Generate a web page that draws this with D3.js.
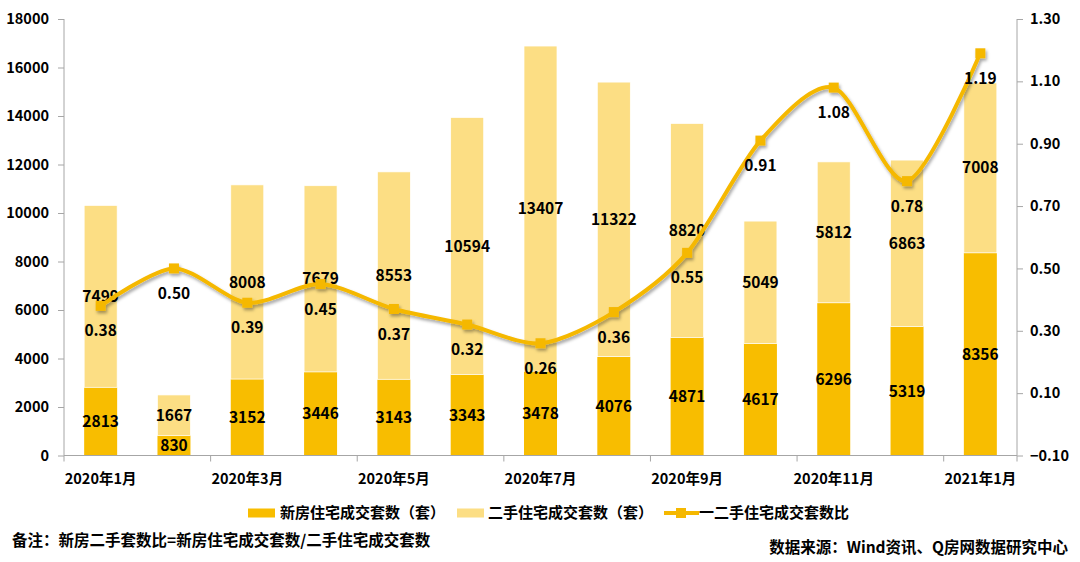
<!DOCTYPE html>
<html><head><meta charset="utf-8">
<script src="https://cdn.jsdelivr.net/npm/d3@7"></script>
<style>body{margin:0;background:#fff}svg{display:block}text{font-family:"Noto Sans CJK SC","Noto Sans",sans-serif;font-weight:bold;fill:#000}</style>
</head><body><svg id="c" width="1080" height="562"></svg>
<script>
const months = ["2020年1月","2020年2月","2020年3月","2020年4月","2020年5月","2020年6月","2020年7月","2020年8月","2020年9月","2020年10月","2020年11月","2020年12月","2021年1月"];
const newHomes = [2813,830,3152,3446,3143,3343,3478,4076,4871,4617,6296,5319,8356];
const secondHomes = [7499,1667,8008,7679,8553,10594,13407,11322,8820,5049,5812,6863,7008];
const ratio = [0.38,0.50,0.39,0.45,0.37,0.32,0.26,0.36,0.55,0.91,1.08,0.78,1.19];
const leftTicks = [0,2000,4000,6000,8000,10000,12000,14000,16000,18000];
const rightTicks = [-0.10,0.10,0.30,0.50,0.70,0.90,1.10,1.30];
const shownMonths = ["2020年1月","2020年3月","2020年5月","2020年7月","2020年9月","2020年11月","2021年1月"];
const seriesNames = ["新房住宅成交套数（套）","二手住宅成交套数（套）","一二手住宅成交套数比"];

const C_NEW="#F8BD00", C_SEC="#FCDE84", C_LINE="#F5B800", AXIS="#A6A6A6";
const svg=d3.select("#c");
const L=64,R=1017,T=19,B=455.5;
const x=d3.scaleBand().domain(months).range([L,R]).paddingInner(0.55).paddingOuter(0.275);
const y=d3.scaleLinear().domain([0,18000]).range([B,T]);
const y2=d3.scaleLinear().domain([-0.10,1.30]).range([B,T]);

const defs=svg.append("defs");
const f=defs.append("filter").attr("id","sh").attr("x","-10%").attr("y","-10%").attr("width","120%").attr("height","130%");
f.append("feDropShadow").attr("dx",1.5).attr("dy",2.5).attr("stdDeviation",1.5).attr("flood-color","#000").attr("flood-opacity",0.35);

// bars
const g=svg.append("g");
months.forEach((m,i)=>{
  g.append("rect").attr("x",x(m)).attr("width",x.bandwidth()).attr("y",y(newHomes[i])).attr("height",y(0)-y(newHomes[i])).attr("fill",C_NEW);
  g.append("rect").attr("x",x(m)).attr("width",x.bandwidth()).attr("y",y(newHomes[i]+secondHomes[i])).attr("height",y(newHomes[i])-y(newHomes[i]+secondHomes[i])).attr("fill",C_SEC).attr("stroke","#fff").attr("stroke-width",0.7);
});

// axes
const ax=svg.append("g").attr("transform",`translate(${L},0)`).call(d3.axisLeft(y).tickValues(leftTicks).tickSize(6).tickPadding(9).tickFormat(d3.format("d")));
const ax2=svg.append("g").attr("transform",`translate(${R},0)`).call(d3.axisRight(y2).tickValues(rightTicks).tickSize(6).tickPadding(7).tickFormat(d3.format(".2f")));
[ax,ax2].forEach(a=>{a.selectAll("path,line").attr("stroke",AXIS);a.selectAll("text").attr("font-size",14.5).attr("font-family",'"Noto Sans CJK SC",sans-serif').attr("font-weight","bold").attr("fill","#000");a.select(".domain").attr("d",`M0,${T}V${B}`);});
// x axis
const step=x.step();
svg.append("line").attr("x1",L).attr("x2",R).attr("y1",B).attr("y2",B).attr("stroke",AXIS);
months.forEach((m,i)=>{ if(i%2===0){ const bx=L+i*step; svg.append("line").attr("x1",bx).attr("x2",bx).attr("y1",B).attr("y2",B+6).attr("stroke",AXIS);} });
svg.append("line").attr("x1",R).attr("x2",R).attr("y1",B).attr("y2",B+6).attr("stroke",AXIS);
shownMonths.forEach(m=>{ svg.append("text").attr("x",x(m)+x.bandwidth()/2).attr("y",484).attr("text-anchor","middle").attr("font-size",14.5).text(m); });

// bar labels
months.forEach((m,i)=>{
  const cx=x(m)+x.bandwidth()/2;
  svg.append("text").attr("x",cx).attr("y",(y(0)+y(newHomes[i]))/2).attr("dy","0.36em").attr("text-anchor","middle").attr("font-size",15.5).text(newHomes[i]);
  svg.append("text").attr("x",cx).attr("y",(y(newHomes[i])+y(newHomes[i]+secondHomes[i]))/2).attr("dy","0.36em").attr("text-anchor","middle").attr("font-size",15.5).text(secondHomes[i]);
});

// line
const pts=months.map((m,i)=>[x(m)+x.bandwidth()/2,y2(ratio[i])]);
const lg=svg.append("g").attr("filter","url(#sh)");
lg.append("path").attr("d",d3.line().curve(d3.curveCardinal.tension(0.15))(pts)).attr("fill","none").attr("stroke",C_LINE).attr("stroke-width",4);
pts.forEach(p=>lg.append("rect").attr("x",p[0]-5).attr("y",p[1]-5).attr("width",10).attr("height",10).attr("fill",C_LINE));
pts.forEach((p,i)=>svg.append("text").attr("x",p[0]).attr("y",p[1]+25).attr("dy","0.36em").attr("text-anchor","middle").attr("font-size",15.5).text(ratio[i].toFixed(2)));

// legend
const ly=513;
svg.append("rect").attr("x",248).attr("y",ly-4.5).attr("width",27).attr("height",9).attr("fill",C_NEW);
svg.append("text").attr("x",280).attr("y",ly).attr("dy","0.36em").attr("font-size",15).text(seriesNames[0]);
svg.append("rect").attr("x",457).attr("y",ly-4.5).attr("width",27).attr("height",9).attr("fill",C_SEC);
svg.append("text").attr("x",488).attr("y",ly).attr("dy","0.36em").attr("font-size",15).text(seriesNames[1]);
svg.append("line").attr("x1",664).attr("x2",699).attr("y1",ly).attr("y2",ly).attr("stroke",C_LINE).attr("stroke-width",4);
svg.append("rect").attr("x",676).attr("y",ly-5).attr("width",10).attr("height",10).attr("fill",C_LINE);
svg.append("text").attr("x",699).attr("y",ly).attr("dy","0.36em").attr("font-size",15).text(seriesNames[2]);

// notes
svg.append("text").attr("x",12).attr("y",540).attr("dy","0.36em").attr("font-size",15.5).text("备注：新房二手套数比=新房住宅成交套数/二手住宅成交套数");
svg.append("text").attr("x",1068).attr("y",547).attr("dy","0.36em").attr("text-anchor","end").attr("font-size",15.5).text("数据来源：Wind资讯、Q房网数据研究中心");
</script></body></html>
